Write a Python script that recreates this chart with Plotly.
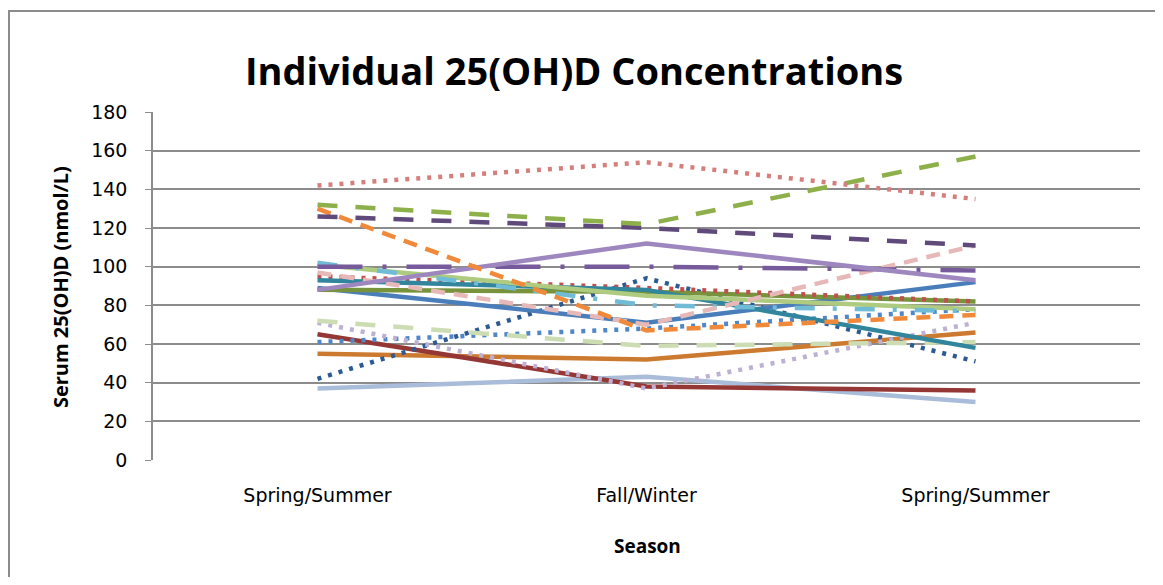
import plotly.graph_objects as go

# season visits (the 1st and 3rd share the same label)
visit_pos = [0, 1, 2]
visit_labels = ["Spring/Summer", "Fall/Winter", "Spring/Summer"]

# serum 25(OH)D per individual, nmol/L
s01 = [142, 154, 135]
s02 = [132, 122, 157]
s03 = [126, 120, 111]
s04 = [130, 67, 75]
s05 = [88, 112, 93]
s06 = [100, 100, 98]
s07 = [97, 70, 111]
s08 = [102, 80, 77]
s09 = [101, 85, 78]
s10 = [93, 88, 58]
s11 = [95, 89, 82]
s12 = [88, 87, 82]
s13 = [89, 71, 92]
s14 = [72, 59, 61]
s15 = [71, 37, 71]
s16 = [61, 68, 78]
s17 = [42, 94, 51]
s18 = [65, 38, 36]
s19 = [55, 52, 66]
s20 = [37, 43, 30]

DOT = "4px,7px"
DASH = "14px,9px"
LDASH = "20px,18px"
LDASHDOT_P = "45px,20px,4px,20px"
LDASHDOT_B = "20px,18px,4px,18px"

series = [
    (s20, "#A9BCDA", "solid"),
    (s19, "#CC7A30", "solid"),
    (s18, "#953735", "solid"),
    (s17, "#2C5A92", DOT),
    (s16, "#4F87C9", DOT),
    (s15, "#BDB0D3", DOT),
    (s14, "#CCDDB4", LDASH),
    (s13, "#4A7EBB", "solid"),
    (s12, "#77933C", "solid"),
    (s11, "#C0504D", DOT),
    (s10, "#31859C", "solid"),
    (s09, "#AECB7F", "solid"),
    (s08, "#70BCD6", LDASHDOT_B),
    (s07, "#E6B9B8", DASH),
    (s06, "#775A9B", LDASHDOT_P),
    (s05, "#9E86BF", "solid"),
    (s04, "#F08A3A", DASH),
    (s03, "#604A7B", LDASH),
    (s02, "#8DB04B", LDASH),
    (s01, "#D57F7D", DOT),
]

fig = go.Figure()
for i, (vals, col, dash) in enumerate(series):
    fig.add_trace(go.Scatter(
        x=visit_pos, y=vals, mode="lines",
        line=dict(color=col, width=4.5, dash=dash),
        name="Subject %d" % (20 - i),
        showlegend=False))

# page body has an 8px margin, so the figure is a bit smaller than the window
fig.update_layout(
    width=1147, height=569,
    paper_bgcolor="white", plot_bgcolor="white",
    margin=dict(l=145, r=15, t=104, b=117),
    font=dict(family="Open Sans", color="black", size=18),
    title=dict(text="<b>Individual 25(OH)D Concentrations</b>",
               x=0.4935, xanchor="center", y=0.8875, yanchor="middle",
               font=dict(size=38, family="Open Sans")),
    xaxis=dict(range=[-0.5, 2.5], tickvals=visit_pos, ticktext=visit_labels,
               showgrid=False, zeroline=False, showline=False, ticks="",
               tickfont=dict(size=19, family="DejaVu Sans"),
               ticklabelstandoff=22),
    yaxis=dict(range=[0, 180], dtick=20, showgrid=True, gridcolor="#8C8C8C",
               gridwidth=1.5, zeroline=False, showline=True, linecolor="#8C8C8C",
               linewidth=1.5, ticks="outside", ticklen=6, tickcolor="#8C8C8C",
               tickfont=dict(size=19, family="DejaVu Sans"),
               ticklabelstandoff=14),
)

fig.add_annotation(text="<b>Serum 25(OH)D (nmol/L)</b>", textangle=-90,
                   xref="paper", yref="paper", x=-0.0942, y=0.497,
                   xanchor="center", yanchor="middle",
                   showarrow=False, font=dict(size=20))
fig.add_annotation(text="<b>Season</b>", xref="paper", yref="paper",
                   x=0.501, y=-0.247, xanchor="center", yanchor="middle",
                   showarrow=False, font=dict(size=19))

# outer chart border
fig.add_shape(type="rect", xref="paper", yref="paper",
              x0=-0.1459, x1=1.05, y0=-0.4, y1=1.290,
              line=dict(color="#8C8C8C", width=2), layer="below")

fig.write_html("out.html")
